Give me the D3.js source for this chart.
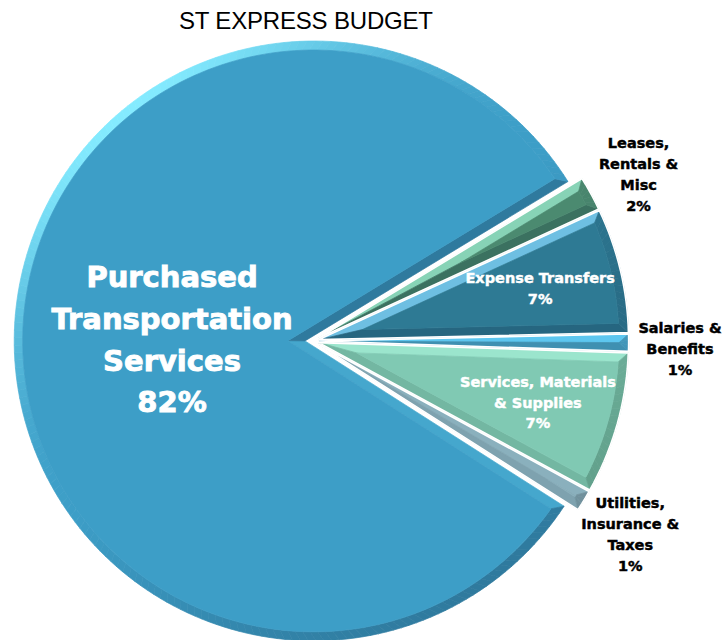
<!DOCTYPE html>
<html>
<head>
<meta charset="utf-8">
<script src="https://cdn.jsdelivr.net/npm/d3@7"></script>
<style>
  body { margin: 0; background: #fff; }
  svg { display: block; }
</style>
</head>
<body>
<div id="chart"></div>
<script>
const w = 724, h = 640;

// data, clockwise from the upper edge of the big slice
const categories = ['Leases,\nRentals &\nMisc', 'Expense Transfers', 'Salaries &\nBenefits',
                    'Services, Materials\n& Supplies', 'Utilities,\nInsurance &\nTaxes',
                    'Purchased\nTransportation\nServices'];
const values = [1.8, 6.5, 0.9, 7.4, 1.1, 82.3];

const faceColors  = ['#4b8a70', '#2e7a94', '#4cb0da', '#80c9b3', '#86acb9', '#3d9ec7'];
const lightColors = ['#88d4b7', '#72c3e6', '#66d2fb', '#aef9e0', '#a0c8d3', '#84ebff'];
const darkColors  = ['#3b7060', '#24617b', '#3b86a5', '#5f9d88', '#6e8e9a', '#2f7a9e'];

const R = 300, bevel = 9, tilt = 0.03, startDeg = 58.8;
const cx = 313, cy = 341;
const rad = Math.PI / 180;
const light = [Math.sin(322 * rad), -Math.cos(322 * rad)];

const svg = d3.select('#chart').append('svg')
  .attr('width', w)
  .attr('height', h);

svg.append('text')
  .attr('x', 306)
  .attr('y', 29)
  .attr('text-anchor', 'middle')
  .style('font-family', '"Liberation Sans", Arial, sans-serif')
  .style('font-size', '24px')
  .attr('textLength', 254)
  .text('ST EXPRESS BUDGET');

const pie = d3.pie().sort(null).value(d => d)
  .startAngle(startDeg * rad)
  .endAngle(startDeg * rad + 2 * Math.PI);
const arcs = pie(values);

const dir = a => [Math.sin(a), -Math.cos(a)];
// slight perspective: the right side of the pie is a bit closer
const proj = p => {
  const d = 1 - tilt * p[0] / R;
  return [cx + p[0] / d, cy + p[1] / d];
};
const line = d3.line().curve(d3.curveLinearClosed);

function shade(i, n) {
  let s = n[0] * light[0] + n[1] * light[1];
  return s >= 0 ? d3.interpolateRgb(faceColors[i], lightColors[i])(s * s)
                : d3.interpolateRgb(faceColors[i], darkColors[i])(-s);
}

function drawSlice(a, i) {
  const a0 = a.startAngle, a1 = a.endAngle;
  const mid = (a0 + a1) / 2, half = (a1 - a0) / 2;
  const e = values[i] > 50 ? 8 : 6;
  const off = dir(mid).map(v => v * e);
  const P = (r, t) => proj([off[0] + r * Math.sin(t), off[1] - r * Math.cos(t)]);

  const rho = R - bevel;
  const dA = Math.min(bevel / Math.sin(half), rho * 0.97);
  let a0i = a0 + Math.asin(bevel / rho), a1i = a1 - Math.asin(bevel / rho);
  if (a0i > a1i) { a0i = mid; a1i = mid; }

  const apex = proj(off);
  const apexIn = P(dA, mid);
  const n = Math.max(2, Math.ceil((a1 - a0) / (1.5 * rad)));
  const outerArc = d3.range(n + 1).map(k => P(R, a0 + (a1 - a0) * k / n));
  const innerArc = d3.range(n + 1).map(k => P(rho, a0i + (a1i - a0i) * k / n));

  const g = svg.append('g').attr('class', 'slice');
  const facet = (pts, col) => g.append('path')
    .attr('d', line(pts))
    .attr('fill', col)
    .attr('stroke', col)
    .attr('stroke-width', 0.7);

  facet([apex, outerArc[0], innerArc[0], apexIn], shade(i, dir(a0 - Math.PI / 2)));
  facet([apex, apexIn, innerArc[n], outerArc[n]], shade(i, dir(a1 + Math.PI / 2)));
  for (let k = 0; k < n; k++) {
    facet([outerArc[k], outerArc[k + 1], innerArc[k + 1], innerArc[k]],
          shade(i, dir(a0 + (a1 - a0) * (k + 0.5) / n)));
  }
  if (a1i > a0i) facet([apexIn].concat(innerArc), faceColors[i]);

  g.append('path')
    .attr('d', line([apex].concat(outerArc)))
    .attr('fill', 'none')
    .attr('stroke', '#fff')
    .attr('stroke-width', values[i] > 50 ? 0 : 1.6)
    .attr('stroke-linejoin', 'round');
}

const order = d3.range(values.length).sort((p, q) => values[q] - values[p]);
order.forEach(i => drawSlice(arcs[i], i));

// labels
arcs.forEach((a, i) => {
  const mid = (a.startAngle + a.endAngle) / 2;
  const v = values[i];
  const big = v > 50, inside = v >= 5;
  const rl = big ? 0.45 * R : inside ? 0.74 * R : 1.17 * R;
  const e = big ? 8 : 6;
  const pos = proj([(e + rl) * Math.sin(mid), -(e + rl) * Math.cos(mid)]);
  if (!inside) pos[1] += 6;
  const lines = categories[i].split('\n').concat(Math.round(v) + '%');
  const fs = big ? 29 : 14.5, lh = fs * 1.44;
  const y0 = pos[1] - (lines.length - 1) * lh / 2 + fs * 0.36;
  const col = inside ? '#fff' : '#000';

  const txt = svg.append('text')
    .attr('text-anchor', 'middle')
    .style('font-family', '"DejaVu Sans", Verdana, sans-serif')
    .style('font-weight', 'bold')
    .style('font-size', fs + 'px')
    .style('fill', col)
    .style('stroke', col)
    .style('stroke-width', big ? 0.9 : 0.45);
  const spans = txt.selectAll('tspan')
    .data(lines)
    .enter()
    .append('tspan')
    .attr('x', pos[0])
    .attr('y', (d, k) => y0 + k * lh)
    .text(d => d);

  // keep the label inside the picture
  const bb = txt.node().getBBox();
  const over = bb.x + bb.width - (w - 2);
  if (over > 0) spans.attr('x', pos[0] - over);
});
</script>
</body>
</html>
